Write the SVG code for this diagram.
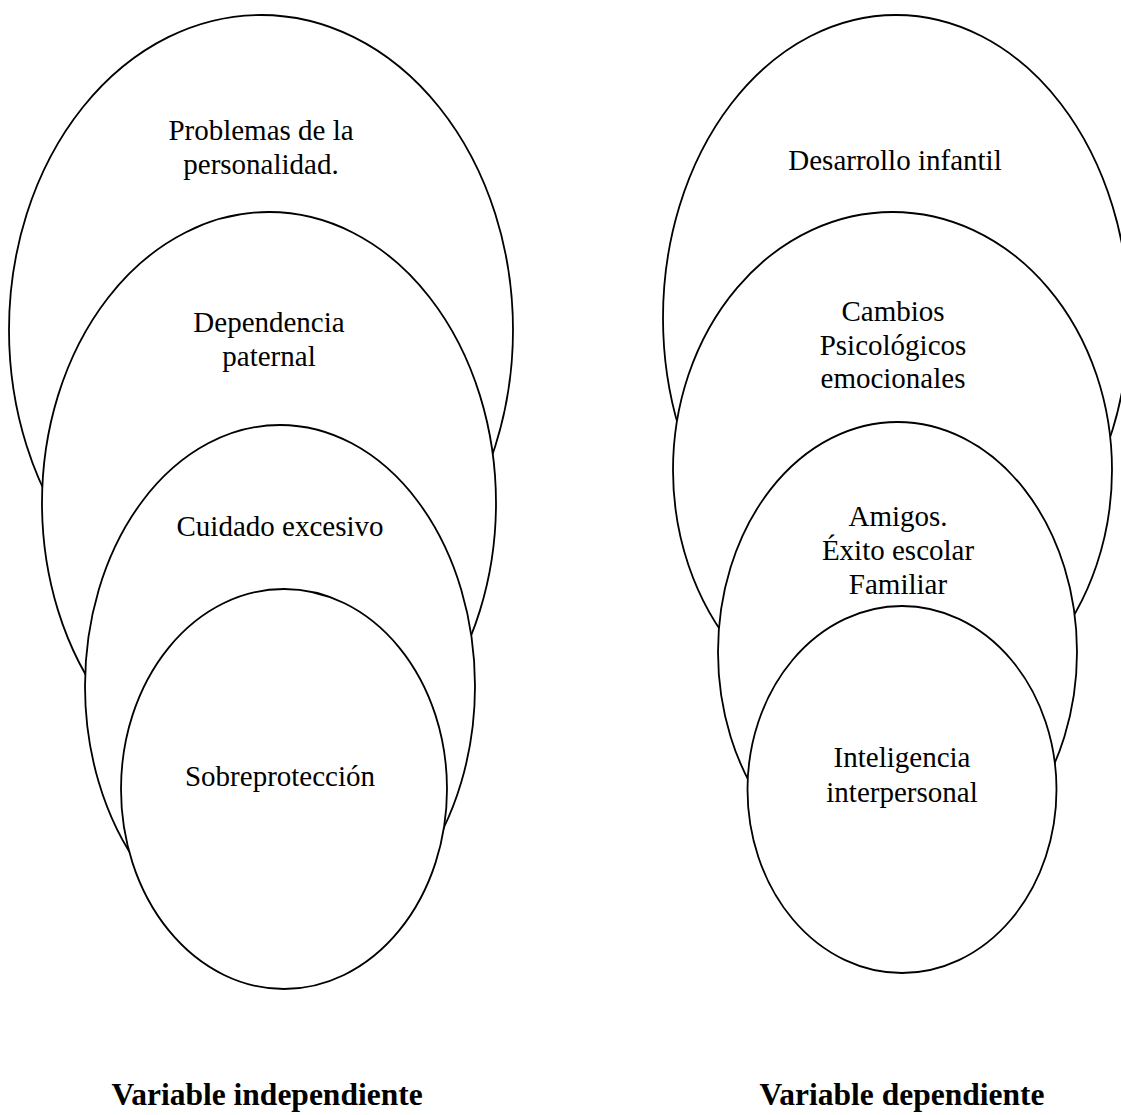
<svg xmlns="http://www.w3.org/2000/svg" width="1121" height="1115" viewBox="0 0 1121 1115">
<style>
.e{fill:#fff;stroke:#000;stroke-width:1.8}
.t{font-family:"Liberation Serif","Times New Roman",serif;font-size:29px;fill:#000;text-anchor:middle}
.b{font-family:"Liberation Serif","Times New Roman",serif;font-size:31.5px;font-weight:bold;fill:#000;text-anchor:middle}
</style>
<rect width="1121" height="1115" fill="#fff"/>
<g id="connectors"></g>
<g id="n-problemas">
<ellipse class="e" cx="261" cy="330" rx="252" ry="315"/>
<text class="t" x="261" y="140">Problemas de la</text>
<text class="t" x="261" y="174">personalidad.</text>
</g>
<g id="n-dependencia">
<ellipse class="e" cx="269" cy="503" rx="227" ry="291"/>
<text class="t" x="269" y="332">Dependencia</text>
<text class="t" x="269" y="366">paternal</text>
</g>
<g id="n-cuidado">
<ellipse class="e" cx="280" cy="686" rx="195" ry="261"/>
<text class="t" x="280" y="536">Cuidado excesivo</text>
</g>
<g id="n-sobreproteccion">
<ellipse class="e" cx="284" cy="789" rx="163" ry="200"/>
<text class="t" x="280" y="786">Sobreprotección</text>
</g>
<g id="n-desarrollo">
<ellipse class="e" cx="896" cy="318" rx="233" ry="303"/>
<text class="t" x="895" y="170">Desarrollo infantil</text>
</g>
<g id="n-cambios">
<ellipse class="e" cx="892.5" cy="470" rx="219.5" ry="258"/>
<text class="t" x="893" y="321">Cambios</text>
<text class="t" x="893" y="355">Psicológicos</text>
<text class="t" x="893" y="388">emocionales</text>
</g>
<g id="n-amigos">
<ellipse class="e" cx="897.5" cy="652" rx="179.5" ry="230"/>
<text class="t" x="898" y="526">Amigos.</text>
<text class="t" x="898" y="560">Éxito escolar</text>
<text class="t" x="898" y="594">Familiar</text>
</g>
<g id="n-inteligencia">
<ellipse class="e" cx="902" cy="789.5" rx="154.5" ry="183.5"/>
<text class="t" x="902" y="767">Inteligencia</text>
<text class="t" x="902" y="802">interpersonal</text>
</g>
<g id="n-labels">
<text class="b" x="267" y="1105">Variable independiente</text>
<text class="b" x="902" y="1105">Variable dependiente</text>
</g>
</svg>
